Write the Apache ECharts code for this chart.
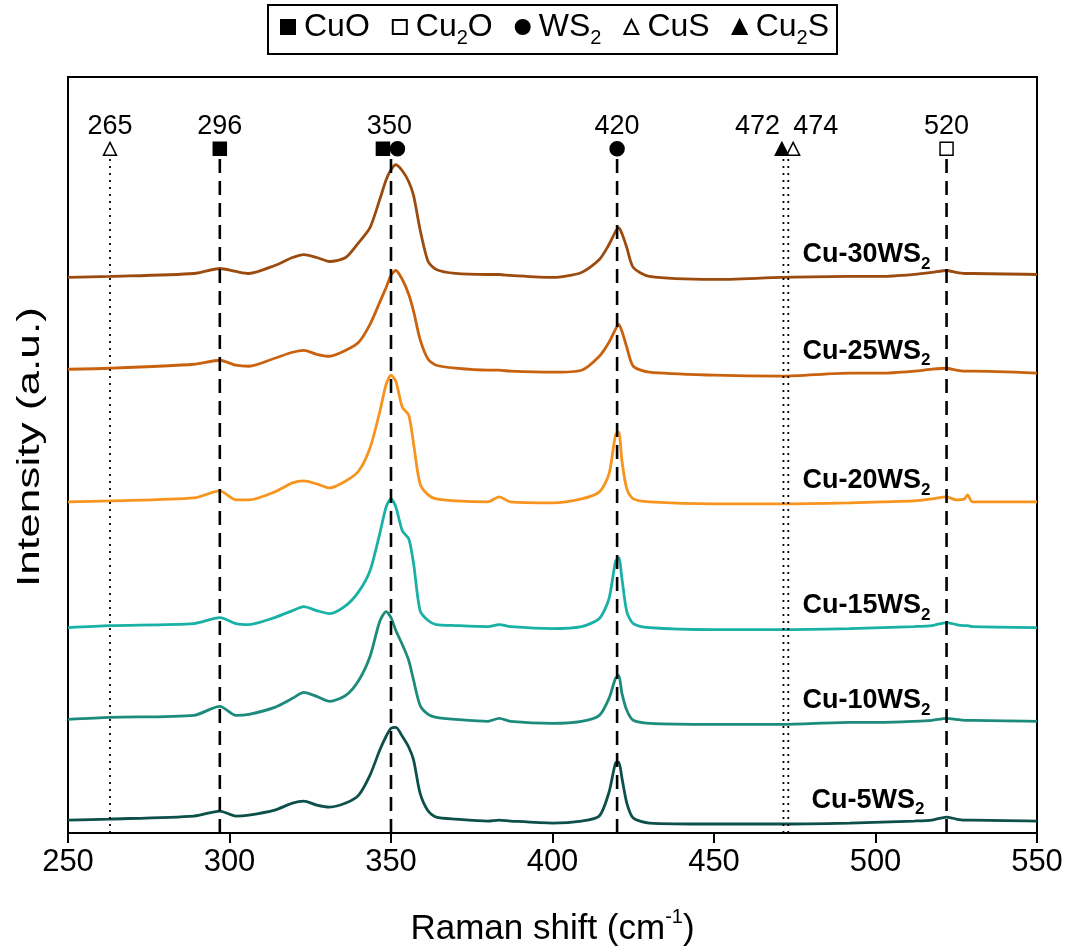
<!DOCTYPE html>
<html><head><meta charset="utf-8">
<script src="https://cdn.jsdelivr.net/npm/echarts@6/dist/echarts.min.js"></script>
<style>html,body{margin:0;padding:0;background:#fff}#c{width:1073px;height:952px}</style>
</head><body><div id="c"></div>
<script>
// Raman shift grid (cm-1)
const shift = [250,263,289,297,302,306,314,319.5,323,327,331,336,340,343.5,346.5,348.5,350,351.5,353.5,355.5,357,359,361.5,364,370,380,383.5,387,400,409,414.5,417.5,419.5,420.5,421.5,423,425,430,450,471,492,502,512,517.5,522,525,527.5,528.5,530,550];
// Intensities (a.u., stacked offsets included)
const cu30 = [557,558,561,566,563,561,569,577,580,577,573,577,592,607,635,655,665,670,664,653,639,605,573,565,561,560,560,559,557,562,575,590,603,607,601,587,567,558,555,557,558,558,560,562,564,562,561,561,561,560];
const cu25 = [465,466,470,474,469,468,476,482,484,480,478,484,492,510,532,547,559,564,555,540,523,495,475,469,466,464,464,463,462,464,478,492,505,510,503,487,468,462,459,458,461,461,463,465,466,464,463,463,463,461];
const cu20 = [332,333,336,343,334,334,342,351,353,350,346,353,363,386,422,450,459,453,427,419,390,350,339,335,333,332,337,332,331,335,342,360,399,402,373,345,335,332,330,330,331,332,333,335,337,334,335,339,332,332];
const cu15 = [206,208,210,216,210,209,216,223,227,223,220,228,242,263,300,327,335,327,303,295,270,223,213,209,208,207,209,207,205,207,215,235,272,276,255,222,210,206,204,204,205,206,207,208,211,209,208,208,207,206];
const cu10 = [114,116,118,127,118,119,126,135,141,137,132,138,153,177,212,222,216,203,189,173,153,128,119,116,114,112,115,112,110,112,118,135,155,158,140,123,113,110,109,109,111,111,112,113,115,114,113,113,113,112];
const cu5  = [13,14,17,22,17,18,23,30,32,28,26,30,38,58,83,97,105,106,97,86,73,40,22,16,14,12,13,12,10,12,17,41,70,71,55,30,15,10,9,9,10,11,12,13,16,14,13,13,13,12];
const sampleNames = ['Cu-30WS2','Cu-25WS2','Cu-20WS2','Cu-15WS2','Cu-10WS2','Cu-5WS2'];
const sampleData = [cu30, cu25, cu20, cu15, cu10, cu5];

// phase reference peaks (cm-1)
const peakCuO = [297, 347.5];
const peakCu2O = [522];
const peakWS2 = [352, 420];
const peakCuS = [263, 474.5];
const peakCu2S = [471];
const dashedLines = [297, 350, 420, 522];
const dottedLines = [263, 471.5, 473];
const peakLabels = ['265','296','350','420','472','474','520'];
const peakLabelShift = [263, 297, 349.5, 420, 463.5, 481.5, 522];

const xTicks = [250,300,350,400,450,500,550];

// ---- layout / style (not data) ----
const colors = ['#9C4B0E','#C9620F','#F7941D','#19B0A6','#1C8B7C','#0D4F49'];
const Y_MAX = 758, MARK_Y = 686, LABEL_Y = 708, LINE_TOP = 677;
const curveLabelPos = [[477.4,580],[477.4,483],[477.4,353],[477.4,228],[477.4,133],[480.2,33]];
const FONT = 'Liberation Sans, Arial, sans-serif';

function richName(name, big){
  const parts = name.split(/(?<=[A-Za-z])2/);
  let out = '';
  parts.forEach((p,i)=>{ if(p) out += '{' + big + '|' + p + '}'; if(i<parts.length-1) out += '{s|2}'; });
  return out;
}

const series = [];
sampleData.forEach((arr, i) => {
  series.push({
    name: sampleNames[i], type: 'line', showSymbol: false, smooth: 0.25, silent: true,
    data: shift.map((x, k) => [x, arr[k]]),
    lineStyle: { color: colors[i], width: 2.8 }, itemStyle: { color: colors[i] }, z: 2
  });
});
dashedLines.forEach(x => series.push({
  type: 'line', showSymbol: false, silent: true, data: [[x, 0], [x, LINE_TOP]],
  lineStyle: { color: '#000', width: 2.6, type: [14, 8] }, z: 5
}));
dottedLines.forEach(x => series.push({
  type: 'line', showSymbol: false, silent: true, data: [[x, 0], [x, LINE_TOP]],
  lineStyle: { color: '#000', width: 1.8, type: [2, 5] }, z: 5
}));
const phases = [
  { name: 'CuO', pos: peakCuO, symbol: 'rect', size: 13, fill: '#000' },
  { name: 'Cu2O', pos: peakCu2O, symbol: 'rect', size: 13, fill: '#fff' },
  { name: 'WS2', pos: peakWS2, symbol: 'circle', size: 14, fill: '#000' },
  { name: 'CuS', pos: peakCuS, symbol: 'triangle', size: 13, fill: '#fff' },
  { name: 'Cu2S', pos: peakCu2S, symbol: 'triangle', size: 13, fill: '#000' }
];
phases.forEach(p => series.push({
  name: p.name, type: 'scatter', symbol: p.symbol, symbolSize: p.size, silent: true,
  data: p.pos.map(x => [x, MARK_Y]),
  itemStyle: { color: p.fill, borderColor: '#000', borderWidth: 1.5, opacity: 1 }, z: 6
}));
series.push({
  type: 'scatter', symbolSize: 0, silent: true, itemStyle: { opacity: 1 },
  data: peakLabels.map((t, i) => ({ value: [peakLabelShift[i], LABEL_Y], name: t })),
  label: { show: true, position: 'inside', formatter: p => p.name, color: '#000', fontSize: 27, fontFamily: FONT }
});
series.push({
  type: 'scatter', symbolSize: 0, silent: true, itemStyle: { opacity: 1 },
  data: sampleNames.map((n, i) => ({ value: curveLabelPos[i], name: n })),
  label: { show: true, position: 'right', distance: 0, formatter: p => richName(p.name, 'b'),
    rich: { b: { fontSize: 27, fontWeight: 'bold', fontFamily: FONT, color: '#000' },
            s: { fontSize: 17, fontWeight: 'bold', fontFamily: FONT, color: '#000', padding: [19, 0, 0, 0] } } }
});

const chart = echarts.init(document.getElementById('c'), null, { renderer: 'canvas' });
chart.setOption({
  animation: false,
  backgroundColor: '#fff',
  grid: { left: 68, right: 36, top: 77, bottom: 117, show: true, borderColor: '#000', borderWidth: 2, containLabel: false },
  legend: {
    data: phases.map(p => p.name), top: 5, left: 268,
    borderColor: '#000', borderWidth: 2, padding: [6, 8, 6, 12], itemGap: 22, itemWidth: 14, itemHeight: 14,
    formatter: n => richName(n, 'n'),
    textStyle: { color: '#000', fontFamily: FONT, fontSize: 32, padding: [0, 0, 0, 4],
      rich: { n: { fontSize: 32, fontFamily: FONT, color: '#000' },
              s: { fontSize: 20, fontFamily: FONT, color: '#000', padding: [22, 0, 0, 0] } } }
  },
  graphic: [{
    type: 'text', rotation: Math.PI / 2, scaleX: 1.38, scaleY: 1,
    style: { text: 'Intensity (a.u.)', fill: '#000', font: '32px ' + FONT, textAlign: 'center', textVerticalAlign: 'middle' },
    x: 30, y: 447, silent: true
  }],
  xAxis: {
    type: 'value', min: 250, max: 550, interval: 50,
    axisLine: { show: true, lineStyle: { color: '#000', width: 2 } },
    axisTick: { show: true, inside: false, length: 10, lineStyle: { color: '#000', width: 2 } },
    axisLabel: { color: '#000', fontSize: 31, fontFamily: FONT, margin: 14, formatter: v => xTicks.includes(v) ? String(v) : '' },
    splitLine: { show: false },
    name: '{n|Raman shift (cm}{sup|-1}{n|)}', nameLocation: 'middle', nameGap: 72,
    nameTextStyle: { rich: { n: { fontSize: 35, fontFamily: FONT, color: '#000', lineHeight: 42, verticalAlign: 'bottom' },
                             sup: { fontSize: 20, fontFamily: FONT, color: '#000', lineHeight: 42, verticalAlign: 'top', padding: [2,0,0,0] } } }
  },
  yAxis: {
    type: 'value', min: 0, max: Y_MAX,
    axisLine: { show: true, lineStyle: { color: '#000', width: 2 } },
    axisTick: { show: false }, axisLabel: { show: false }, splitLine: { show: false }
  },
  series
});
</script></body></html>
